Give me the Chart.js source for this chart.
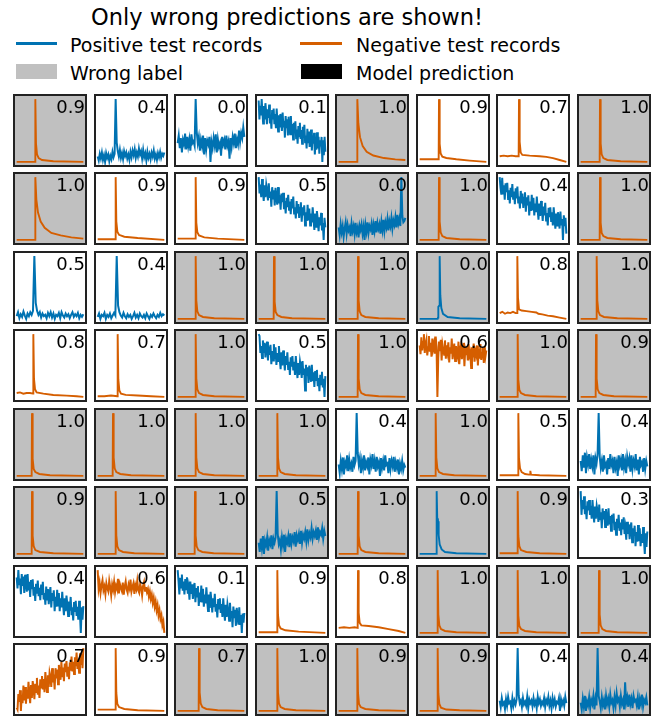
<!DOCTYPE html>
<html>
<head>
<meta charset="utf-8">
<script src="https://cdn.jsdelivr.net/npm/chart.js@4.4.1/dist/chart.umd.min.js"></script>
<style>
  html, body { margin: 0; padding: 0; background: #fff; }
  body { width: 665px; height: 720px; position: relative; overflow: hidden; font-family: "DejaVu Sans", sans-serif; color: #000; }
  #title { position: absolute; left: 0; width: 574px; top: 4px; text-align: center; font-size: 22.5px; line-height: 26px; white-space: nowrap; }
  .leg { position: absolute; font-size: 19px; line-height: 22px; white-space: nowrap; }
  .sw { position: absolute; }
  .panel { position: absolute; box-sizing: border-box; width: 74px; height: 73px; border: 2px solid #222; }
  .panel canvas { position: absolute; left: 0; top: 0; }
  .score { position: absolute; right: 0; top: 2px; font-size: 18px; line-height: 18px; white-space: nowrap; }
</style>
</head>
<body>
<div id="title">Only wrong predictions are shown!</div>
<div class="sw" style="left:16px;top:42px;width:41px;height:3px;background:#0072B2"></div>
<div class="leg" style="left:70px;top:34px">Positive test records</div>
<div class="sw" style="left:300px;top:42px;width:42px;height:3px;background:#D55E00"></div>
<div class="leg" style="left:356px;top:34px">Negative test records</div>
<div class="sw" style="left:16px;top:64px;width:41px;height:15px;background:#C0C0C0"></div>
<div class="leg" style="left:70px;top:62px">Wrong label</div>
<div class="sw" style="left:301px;top:64px;width:41px;height:15px;background:#000"></div>
<div class="leg" style="left:356px;top:62px">Model prediction</div>
<script>
// prediction score shown in each panel (row by row)
const scores = [
  0.9, 0.4, 0.0, 0.1, 1.0, 0.9, 0.7, 1.0,
  1.0, 0.9, 0.9, 0.5, 0.0, 1.0, 0.4, 1.0,
  0.5, 0.4, 1.0, 1.0, 1.0, 0.0, 0.8, 1.0,
  0.8, 0.7, 1.0, 0.5, 1.0, 0.6, 1.0, 0.9,
  1.0, 1.0, 1.0, 1.0, 0.4, 1.0, 0.5, 0.4,
  0.9, 1.0, 1.0, 0.5, 1.0, 0.0, 0.9, 0.3,
  0.4, 0.6, 0.1, 0.9, 0.8, 1.0, 1.0, 1.0,
  0.7, 0.9, 0.7, 1.0, 0.9, 0.9, 0.4, 0.4
]
// P = positive test record, N = negative test record
const testLabel = [
  'N','P','P','P','N','N','N','N',
  'N','N','N','P','P','N','P','N',
  'P','P','N','N','N','P','N','N',
  'N','N','N','P','N','N','N','N',
  'N','N','N','N','P','N','N','P',
  'N','N','N','P','N','P','N','P',
  'P','N','P','N','N','N','N','N',
  'N','N','N','N','N','N','P','P'
]
// 1 = wrong label (grey panel)
const wrongLabel = [
  1,0,0,0,1,0,0,1,
  1,0,0,0,1,1,0,1,
  0,0,1,1,1,1,0,1,
  0,0,1,0,1,0,1,1,
  1,1,1,1,0,1,0,0,
  1,1,1,1,1,1,1,0,
  0,0,0,0,0,1,1,1,
  0,0,1,1,1,1,0,1
]

// records: [x, y] pairs (x in % of record length) or plain samples
const r1c1 = [[0,1],[27.5,1],[28,100],[29,30],[30.5,13],[33,7],[38,4],[55,2],[100,1]]
const r1c2 = [14,8,18,11,20,9,16,6,19,12,17,7,15,10,21,13,18,100,35,22,14,24,12,19,10,22,15,20,11,17,9,21,13,23,16,25,12,20,14,26,17,22,11,24,13,19,8,21,12,18,10,20,14,23,11,17,9,19,13,21,12,18,15,20]
const r1c3 = [30,42,22,38,15,35,28,45,20,40,25,36,18,44,30,33,26,100,48,30,40,18,35,25,42,12,38,20,34,28,40,0,32,22,38,26,44,15,36,24,30,10,40,28,35,20,42,26,33,5,38,24,40,30,45,22,36,28,50,32,46,38,55,40]
const r1c4 = [95,67,87,73,97,77,61,87,67,91,78,60,82,69,89,61,74,53,81,67,83,60,75,54,83,65,49,73,55,75,67,50,77,55,65,40,72,54,67,43,71,55,45,72,46,60,37,62,49,64,39,52,31,57,42,62,38,51,31,56,40,59,33,43,24,53,33,49,26,42,52,21,43,31,47,15,37,22,48,24,41,16,36,27,41,4,36,14,41,19]
const r1c5 = [[0,1],[27.5,1],[28,100],[29.5,62],[32,40],[36,26],[42,17],[52,11],[68,7],[85,5],[100,4]]
const r1c6 = [[0,6],[28.5,6],[29,100],[30,30],[31.5,15],[34,10],[40,8],[55,6],[75,4],[100,2]]
const r1c7 = [[0,9],[6,10],[12,9],[18,10],[24,9],[28.5,9],[29,100],[30,32],[31.5,15],[34,11],[45,10],[60,9],[70,8],[80,6],[90,3],[100,0]]
const r1c8 = [[0,1],[28.5,1],[29,100],[30,30],[31.5,13],[34,7],[40,4],[60,2],[100,1]]

const r2c1 = [[0,1],[27.5,1],[28,100],[29.5,65],[32,44],[36,30],[42,20],[52,12],[66,8],[82,5],[100,3]]
const r2c2 = [[0,2],[26.5,2],[27,100],[28,30],[29.5,14],[32,9],[40,6],[60,4],[100,1]]
const r2c3 = [[0,3],[26.5,3],[27,100],[28,28],[29.5,13],[32,8],[40,5],[60,3],[100,1]]
const r2c4 = [100,74,88,68,97,78,62,87,68,88,79,63,90,67,77,53,84,66,79,55,83,67,56,84,58,71,48,74,60,75,49,62,42,67,52,72,48,61,41,65,50,69,42,52,34,62,42,57,35,51,60,29,52,39,55,23,44,30,56,31,50,23,42,28,52,32,16,42,21,46,33,14,36,23,43,15,27,0,35,20]
const r2c5 = [20,8,25,12,22,5,18,28,10,24,15,20,6,26,14,22,9,27,12,19,4,23,16,25,10,21,0,24,13,28,11,22,17,26,8,24,14,30,12,27,18,25,10,29,16,32,14,28,20,33,15,30,22,35,18,31,24,36,20,40,26,34,22,100,38,28,30,35]
const r2c6 = [[0,1],[28.5,1],[29,100],[30,30],[31.5,13],[34,7],[40,4],[60,2],[100,1]]
const r2c7 = [100,83,72,99,74,87,64,90,76,91,65,79,58,83,68,89,64,77,57,82,66,85,58,69,50,78,58,74,51,67,76,45,68,55,71,39,61,46,72,47,67,39,58,44,69,48,32,58,38,62,49,30,53,39,59,31,43,23,51,36,52,30,44,23,52,34,18,42,23,44,35,18,45,23,33,0,39,22,35,10]
const r2c8 = [[0,1],[28.5,1],[29,100],[30,28],[31.5,12],[34,7],[40,4],[60,2],[100,1]]

const r3c1 = [10,16,7,13,9,17,11,6,14,10,16,12,18,100,30,18,12,16,8,14,10,12,7,15,10,16,8,14,6,12,10,15,7,16,11,8,14,10,13,7,12,16,9,13,10,15,7,12,9,13]
const r3c2 = [9,14,6,12,10,15,6,12,9,14,7,11,15,11,100,26,16,11,8,15,10,7,13,9,12,6,10,15,8,12,7,14,10,8,12,7,14,10,6,12,9,14,10,7,12,9,15,10,13,11]
const r3c3 = [[0,1],[26.5,1],[27,100],[28,30],[29.5,13],[32,7],[38,4],[55,2],[100,1]]
const r3c4 = [[0,1],[22.5,1],[23,100],[24,28],[25.5,12],[28,7],[34,4],[50,2],[100,1]]
const r3c5 = [[0,1],[28.5,1],[29,100],[30,30],[31.5,13],[34,7],[40,4],[60,2],[100,1]]
const r3c6 = [[0,1],[27,1],[27.5,3],[28,20],[29.5,22],[30,100],[31,38],[32.5,18],[35,9],[42,4],[60,2],[100,1]]
const r3c7 = [[0,11],[4,13],[8,10],[12,12],[16,11],[20,13],[24,11],[26,11],[26.5,100],[27.5,35],[29,17],[33,15],[40,14],[48,13],[55,12],[58,10],[64,9],[72,7],[80,6],[90,4],[100,2]]
const r3c8 = [[0,1],[23.5,1],[24,100],[25,30],[26.5,13],[29,7],[35,4],[55,2],[100,1]]

const r4c1 = [[0,8],[5,9],[10,7],[15,8],[20,8],[24.5,7],[25,100],[26,30],[27.5,14],[30,9],[40,7],[55,5],[75,4],[90,3],[100,2]]
const r4c2 = [[0,4],[10,4],[20,5],[29.5,4],[30,100],[31,30],[32.5,13],[35,8],[42,6],[60,5],[80,4],[100,3]]
const r4c3 = [[0,1],[26.5,1],[27,100],[28,30],[29.5,13],[32,7],[38,4],[55,2],[100,1]]
const r4c4 = [100,97,70,81,62,90,70,86,63,79,88,58,80,67,83,52,73,58,84,60,79,51,70,57,81,60,44,71,50,74,61,42,65,51,71,43,56,35,63,48,65,42,56,35,65,46,30,54,35,56,47,30,57,35,45,10,51,34,47,22,50,35,24,51,25,39,16,41,27,43,17,30,9,35,20,40,15,29,0,33]
const r4c5 = [[0,1],[28.5,1],[29,100],[30,30],[31.5,13],[34,7],[40,4],[60,2],[100,1]]
const r4c6 = [82,68,95,74,88,100,70,84,91,66,79,97,72,86,64,93,77,85,69,96,80,0,62,88,73,91,58,84,76,67,90,61,82,72,87,55,79,69,93,60,74,85,57,81,70,64,88,52,77,83,60,72,86,49,75,68,80,58,84,66,71,46,79,63,85,56,73,67,82,50,76,61,84,59,70,78,54,81,65,74]
const r4c7 = [[0,1],[26.5,1],[27,100],[28,28],[29.5,12],[32,7],[38,4],[55,2],[100,1]]
const r4c8 = [[0,1],[22.5,1],[23,100],[24,30],[25.5,13],[28,7],[34,4],[50,2],[100,1]]

const r5c1 = [[0,1],[22.5,1],[23,100],[24,28],[25.5,12],[28,7],[34,4],[50,2],[100,1]]
const r5c2 = [[0,1],[22.5,1],[23,100],[24,30],[25.5,13],[28,7],[34,4],[50,2],[100,1]]
const r5c3 = [[0,1],[26.5,1],[27,100],[28,30],[29.5,13],[32,7],[38,4],[55,2],[100,1]]
const r5c4 = [[0,1],[27.5,1],[28,100],[29,30],[30.5,13],[33,7],[39,4],[56,2],[100,1]]
const r5c5 = [25,12,30,18,35,10,28,22,38,15,32,20,26,14,36,24,30,100,42,25,34,12,30,20,38,16,28,22,35,10,32,24,40,18,30,14,36,22,28,8,34,20,30,16,38,24,26,12,34,18,30,22,36,14,28,20,32,10,26,18,30,16,24,20]
const r5c6 = [[0,1],[23.5,1],[24,100],[25,30],[26.5,13],[29,7],[35,4],[52,2],[100,1]]
const r5c7 = [[0,1],[27.5,1],[28,100],[29,28],[30.5,12],[33,6],[38,3],[44,2],[45.5,2],[46,8],[47,2],[60,1],[100,0]]
const r5c8 = [30,15,38,20,42,12,35,25,40,18,32,22,38,10,34,26,40,100,36,20,30,14,38,22,26,10,34,18,40,24,30,12,36,20,28,8,38,24,32,16,40,20,30,12,36,26,34,14,38,18,30,22,40,16,32,10,36,24,28,14,34,18,30,22]

const r6c1 = [[0,2],[22.5,2],[23,100],[24,30],[25.5,14],[28,8],[35,5],[55,3],[100,2]]
const r6c2 = [[0,1],[26.5,1],[27,100],[28,30],[29.5,13],[32,7],[38,4],[55,2],[100,1]]
const r6c3 = [[0,1],[25.5,1],[26,100],[27,30],[28.5,13],[31,7],[37,4],[54,2],[100,1]]
const r6c4 = [22,8,28,14,32,5,25,18,30,10,26,20,33,12,28,22,30,100,35,20,26,12,30,18,34,8,28,22,32,15,36,20,30,24,38,16,33,26,35,20,40,22,34,28,38,24,42,26,36,30,44,28,38,32,40,26,45,30,38,34,44,28,40,32]
const r6c5 = [[0,1],[28.5,1],[29,100],[30,30],[31.5,13],[34,7],[40,4],[60,2],[100,1]]
const r6c6 = [[0,0],[25,0],[25.5,100],[26.5,50],[27.5,52],[28.5,30],[30,15],[33,7],[38,3],[55,1],[100,0]]
const r6c7 = [[0,3],[26.5,3],[27,100],[28,30],[29.5,14],[32,8],[40,5],[60,3],[100,2]]
const r6c8 = [100,63,86,72,92,64,77,56,84,70,86,63,77,57,86,67,51,76,57,77,69,52,79,56,67,42,73,56,69,44,72,57,46,73,48,61,38,63,50,65,39,52,32,57,42,63,38,51,31,56,40,59,33,43,24,52,33,48,25,42,51,20,42,30,46,14,36,21,47,22,42,14,33,19,44,23,2,34,13,37]

const r7c1 = [85,68,96,73,83,59,90,72,86,61,89,74,63,90,65,78,55,81,67,82,57,70,49,75,60,80,56,69,50,74,58,78,51,61,43,71,51,67,44,60,70,39,61,49,65,33,55,40,66,42,61,33,53,39,63,43,27,53,33,57,44,26,48,34,55,27,39,19,47,32,49,26,40,20,49,30,0,39,20,41]
const r7c2 = [100,70,80,64,76,84,68,74,62,79,71,66,83,73,60,77,69,81,65,75,70,86,63,78,72,67,80,61,74,82,69,64,77,71,85,66,73,79,62,76,70,83,68,64,78,72,60,75,81,67,73,65,70,58,66,54,61,48,56,42,50,36,44,28,36,22,28,12,18,0]
const r7c3 = [100,83,62,88,73,93,68,82,62,86,70,89,63,73,54,82,63,78,55,71,80,50,72,59,75,44,65,50,76,51,71,43,62,48,73,52,36,62,41,66,53,34,56,42,63,35,47,26,55,40,56,33,47,27,56,37,21,46,27,47,38,21,49,26,36,11,43,25,38,13,41,26,15,42,16,30,2,32,18,33]
const r7c4 = [[0,3],[27.5,3],[28,100],[29,30],[30.5,14],[33,9],[40,6],[60,4],[100,2]]
const r7c5 = [[0,8],[8,9],[16,8],[24,9],[28.5,8],[29,100],[30,32],[31.5,16],[34,12],[45,11],[60,9],[75,6],[90,3],[100,0]]
const r7c6 = [[0,1],[26.5,1],[27,100],[28,30],[29.5,13],[32,7],[38,4],[55,2],[100,1]]
const r7c7 = [[0,1],[26.5,1],[27,100],[28,28],[29.5,12],[32,7],[38,4],[55,2],[100,1]]
const r7c8 = [[0,1],[27,1],[27.5,100],[28.5,30],[30,13],[32.5,7],[38,4],[55,2],[100,1]]

const r8c1 = [8,5,29,17,35,3,28,15,42,19,40,14,35,22,48,29,15,43,23,49,38,21,45,32,54,28,42,23,52,39,57,36,52,32,63,46,32,58,40,62,55,40,69,47,59,36,69,53,67,44,74,60,51,79,55,70,49,76,63,80,56,71,52,78,65,87,64,79,60,86,72,93,68,79,62,92,74,91,69,100]
const r8c2 = [[0,4],[26.5,4],[27,100],[28,30],[29.5,13],[32,8],[40,5],[60,3],[100,2]]
const r8c3 = [[0,1],[31.5,1],[32,100],[33,30],[34.5,13],[37,7],[43,4],[60,2],[100,1]]
const r8c4 = [[0,1],[27.5,1],[28,100],[29,30],[30.5,13],[33,7],[39,4],[56,2],[100,1]]
const r8c5 = [[0,2],[27.5,2],[28,100],[29,30],[30.5,13],[33,8],[40,5],[60,3],[100,2]]
const r8c6 = [[0,3],[26.5,3],[27,100],[28,30],[29.5,14],[32,8],[40,5],[60,4],[100,3]]
const r8c7 = [18,8,22,12,15,5,20,10,24,14,16,6,22,10,18,12,20,100,26,14,18,8,22,12,16,10,24,6,20,14,18,9,22,12,17,6,24,14,20,10,16,12,22,8,19,14,24,10,18,6,22,12,20,9,16,14,22,2,20,12,18,10,24,14]
const r8c8 = [20,10,26,14,30,8,22,16,28,12,24,18,30,10,26,16,100,30,22,12,28,16,24,10,30,18,26,14,32,20,24,12,28,16,34,22,26,14,30,18,24,10,50,20,28,14,32,18,26,12,30,22,24,16,28,10,26,18,32,14,24,20,28,16]

const records = [
  r1c1, r1c2, r1c3, r1c4, r1c5, r1c6, r1c7, r1c8,
  r2c1, r2c2, r2c3, r2c4, r2c5, r2c6, r2c7, r2c8,
  r3c1, r3c2, r3c3, r3c4, r3c5, r3c6, r3c7, r3c8,
  r4c1, r4c2, r4c3, r4c4, r4c5, r4c6, r4c7, r4c8,
  r5c1, r5c2, r5c3, r5c4, r5c5, r5c6, r5c7, r5c8,
  r6c1, r6c2, r6c3, r6c4, r6c5, r6c6, r6c7, r6c8,
  r7c1, r7c2, r7c3, r7c4, r7c5, r7c6, r7c7, r7c8,
  r8c1, r8c2, r8c3, r8c4, r8c5, r8c6, r8c7, r8c8
]

const colors = { P: '#0072B2', N: '#D55E00' }

records.forEach((rec, i) => {
  const row = Math.floor(i / 8), col = i % 8
  const panel = document.createElement('div')
  panel.className = 'panel'
  panel.style.left = Math.round(13 + col * 80.57) + 'px'
  panel.style.top = Math.round(94 + row * 78.43) + 'px'
  panel.style.background = wrongLabel[i] ? '#C0C0C0' : '#fff'
  const cv = document.createElement('canvas')
  cv.width = 70
  cv.height = 69
  panel.appendChild(cv)
  const lbl = document.createElement('div')
  lbl.className = 'score'
  lbl.textContent = scores[i].toFixed(1)
  panel.appendChild(lbl)
  document.body.appendChild(panel)

  const sampled = typeof rec[0] === 'number'
  let pts
  if (sampled) {
    pts = rec.map((v, k) => ({ x: k * 100 / (rec.length - 1), y: v }))
  } else {
    pts = rec.map(p => ({ x: p[0], y: p[1] }))
  }
  const ys = pts.map(p => p.y)
  const lo = Math.min(...ys), hi = Math.max(...ys)
  const pad = (hi - lo) * 0.05

  new Chart(cv, {
    type: 'line',
    data: {
      datasets: [{
        data: pts,
        borderColor: colors[testLabel[i]],
        borderWidth: sampled ? 2 : 1.9,
        pointRadius: 0,
        tension: 0,
        fill: false,
      }]
    },
    options: {
      responsive: false,
      animation: false,
      events: [],
      layout: { padding: 0 },
      plugins: {
        legend: { display: false },
        tooltip: { enabled: false },
      },
      scales: {
        x: { type: 'linear', display: false, min: -2.5, max: 102.5 },
        y: { type: 'linear', display: false, min: lo - pad, max: hi + pad },
      }
    }
  })
})
</script>
</body>
</html>
